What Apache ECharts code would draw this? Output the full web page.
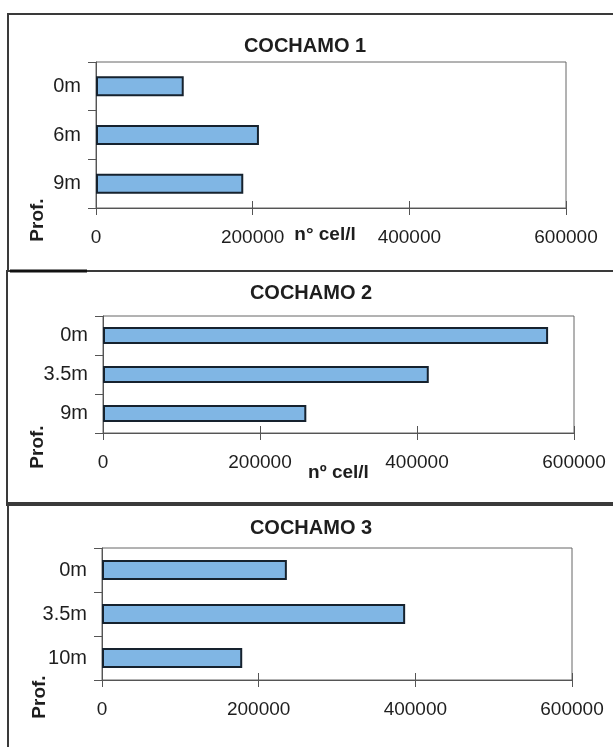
<!DOCTYPE html>
<html>
<head>
<meta charset="utf-8">
<title>COCHAMO</title>
<script src="https://cdn.jsdelivr.net/npm/echarts@6/dist/echarts.min.js"></script>
<style>
  html, body { margin: 0; padding: 0; background: #ffffff; }
  #chart { width: 613px; height: 747px; }
</style>
</head>
<body>
<div id="chart"></div>
<script>
// Cell counts (nº cel/l) by sampling depth at three Cochamó stations
const titles = ['COCHAMO 1', 'COCHAMO 2', 'COCHAMO 3'];
const depths1 = ['0m', '6m', '9m'];
const cells1 = [112000, 208000, 188000];
const depths2 = ['0m', '3.5m', '9m'];
const cells2 = [567000, 415000, 259000];
const depths3 = ['0m', '3.5m', '10m'];
const cells3 = [236000, 387000, 179000];
const xMin = 0;
const xMax = 600000;
const xStep = 200000;
const xNames = ['n° cel/l', 'nº cel/l', ''];
const yName = 'Prof.';

const depthSets = [depths1, depths2, depths3];
const cellSets = [cells1, cells2, cells3];

// Panel layout (pixels)
const panels = [
  { frame: [8, 14, 271], grid: { left: 96, top: 62, width: 470, height: 146 }, title: [305, 36], bar: 20, nameGap: 17, nameShift: -6, prof: [38, 220] },
  { frame: [7, 271, 505], grid: { left: 103, top: 316, width: 471, height: 117 }, title: [311, 283], bar: 17, nameGap: 30, nameShift: 0, prof: [38, 447] },
  { frame: [8, 503, 752], grid: { left: 102, top: 548, width: 470, height: 132 }, title: [311, 518], bar: 20, nameGap: 30, nameShift: 0, prof: [40, 697] }
];

const FONT = '"Liberation Sans", Arial, Helvetica, sans-serif';
const INK = '#1e1e1e';
const AXIS = '#555555';

const option = {
  backgroundColor: '#ffffff',
  animation: false,
  title: panels.map((p, i) => ({
    text: titles[i],
    left: p.title[0],
    top: p.title[1],
    textAlign: 'center',
    padding: 0,
    textStyle: { fontFamily: FONT, fontSize: 20, fontWeight: 'bold', color: INK }
  })),
  grid: panels.map(p => Object.assign({
    show: true,
    borderColor: '#666666',
    borderWidth: 1,
    backgroundColor: 'transparent'
  }, p.grid)),
  xAxis: [],
  yAxis: [],
  series: [],
  graphic: []
};

panels.forEach((p, i) => {
  // value axis with labels and outward ticks
  option.xAxis.push({
    type: 'value',
    gridIndex: i,
    min: xMin,
    max: xMax,
    interval: xStep,
    name: xNames[i],
    nameLocation: 'middle',
    nameGap: p.nameGap,
    nameMoveOverlap: false,
    nameTextStyle: {
      fontFamily: FONT, fontSize: 19, fontWeight: 'bold', color: INK,
      padding: [0, 0, 0, p.nameShift * 2]
    },
    axisLine: { show: true, lineStyle: { color: AXIS, width: 1 } },
    axisTick: { show: true, inside: false, length: 7, lineStyle: { color: AXIS } },
    axisLabel: {
      fontFamily: FONT, fontSize: 19, color: INK, margin: 20,
      formatter: v => String(v)
    },
    splitLine: { show: false }
  });
  // twin axis drawing the inward half of the crossing ticks
  option.xAxis.push({
    type: 'value',
    gridIndex: i,
    min: xMin,
    max: xMax,
    interval: xStep,
    position: 'bottom',
    axisLine: { show: false },
    axisTick: { show: true, inside: true, length: 7, lineStyle: { color: AXIS } },
    axisLabel: { show: false },
    splitLine: { show: false }
  });
  option.yAxis.push({
    type: 'category',
    gridIndex: i,
    inverse: true,
    data: depthSets[i],
    axisLine: { show: true, lineStyle: { color: AXIS, width: 1 } },
    axisTick: { show: true, length: 8, lineStyle: { color: AXIS } },
    axisLabel: { fontFamily: FONT, fontSize: 20, color: INK, margin: 15 },
    splitLine: { show: false }
  });
  option.series.push({
    type: 'bar',
    xAxisIndex: i * 2,
    yAxisIndex: i,
    data: cellSets[i],
    barWidth: p.bar,
    itemStyle: { color: '#80b6e4', borderColor: '#16222e', borderWidth: 2 },
    emphasis: { disabled: true }
  });
  // panel frame
  option.graphic.push({
    type: 'rect',
    silent: true,
    shape: { x: p.frame[0], y: p.frame[1], width: 700, height: p.frame[2] - p.frame[1] },
    style: { fill: 'none', stroke: '#3a3a3a', lineWidth: 2 }
  });
  // rotated depth label
  option.graphic.push({
    type: 'text',
    silent: true,
    x: p.prof[0],
    y: p.prof[1],
    rotation: Math.PI / 2,
    style: {
      text: yName,
      fontFamily: FONT,
      fontSize: 19,
      fontWeight: 'bold',
      fill: INK,
      align: 'center',
      verticalAlign: 'middle'
    }
  });
});

// heavier rule at the lower left of the first frame
option.graphic.push({
  type: 'line',
  silent: true,
  shape: { x1: 10, y1: 271, x2: 87, y2: 271 },
  style: { stroke: '#111111', lineWidth: 3 }
});

const chart = echarts.init(document.getElementById('chart'), null, { renderer: 'canvas' });
chart.setOption(option);
</script>
</body>
</html>
